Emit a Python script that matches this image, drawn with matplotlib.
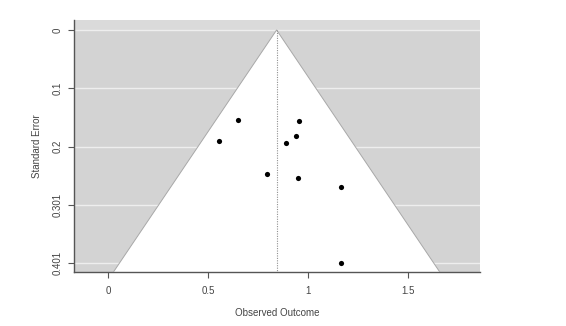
import matplotlib
matplotlib.use("Agg")
import matplotlib.pyplot as plt
import numpy as np

plt.rcParams['font.family'] = ['Liberation Sans', 'DejaVu Sans']

# Data
estimates = [0.650, 0.553, 0.797, 0.957, 0.942, 0.892, 0.948, 1.167, 1.167]
std_errors = [0.154, 0.191, 0.248, 0.157, 0.183, 0.194, 0.255, 0.270, 0.401]
pooled_estimate = 0.843
se_max = 0.401
ytick_labels = ["0", "0.1", "0.2", "0.301", "0.401"]
xticks = [0, 0.5, 1, 1.5]
xtick_labels = ["0", "0.5", "1", "1.5"]

fig = plt.figure(figsize=(5.66, 3.26), dpi=100)
ax = fig.add_axes([74/566, 1 - 272/326, (480-74)/566, (272-20)/326])

xlim = (-0.17, 1.86)
ylim_bottom = 0.4162
ylim_top = -0.0172
ax.set_xlim(*xlim)
ax.set_ylim(ylim_bottom, ylim_top)

ax.set_facecolor('#d3d3d3')
# lighter top band
ax.axhspan(ylim_top, 0, color='#dadada', zorder=0.5, lw=0)

yticks = np.linspace(0, se_max, 5)
for yt in yticks:
    ax.axhline(yt, color='#eeeeee', lw=1.0, zorder=1)

# funnel
z = 1.96
xs = [pooled_estimate - z*ylim_bottom, pooled_estimate, pooled_estimate + z*ylim_bottom]
ys = [ylim_bottom, 0, ylim_bottom]
ax.fill(xs, ys, color='white', zorder=2, lw=0)
ax.plot(xs, ys, color='#a8a8a8', lw=0.7, zorder=3)
ax.plot([pooled_estimate, pooled_estimate], [0, ylim_bottom], color='#909090',
        lw=0.8, ls=(0, (1, 1.2)), zorder=3)

ax.scatter(estimates, std_errors, s=14, color='black', zorder=4, linewidths=0)

for s in ['top', 'right']:
    ax.spines[s].set_visible(False)
for s in ['left', 'bottom']:
    ax.spines[s].set_color('#555555')
    ax.spines[s].set_linewidth(1.0)

ax.set_yticks(yticks)
ax.set_yticklabels(ytick_labels, rotation=90, va='center')
ax.set_xticks(xticks)
ax.set_xticklabels(xtick_labels)
ax.tick_params(axis='both', colors='#555555', labelcolor='#444444', labelsize=7,
               length=4, width=0.8)
ax.tick_params(axis='y', pad=4)
ax.tick_params(axis='x', pad=6)

ax.set_xlabel('Observed Outcome', fontsize=7, color='#444444', labelpad=9)
ax.set_ylabel('Standard Error', fontsize=7, color='#444444', labelpad=8)

fig.savefig('out.png', dpi=100)
